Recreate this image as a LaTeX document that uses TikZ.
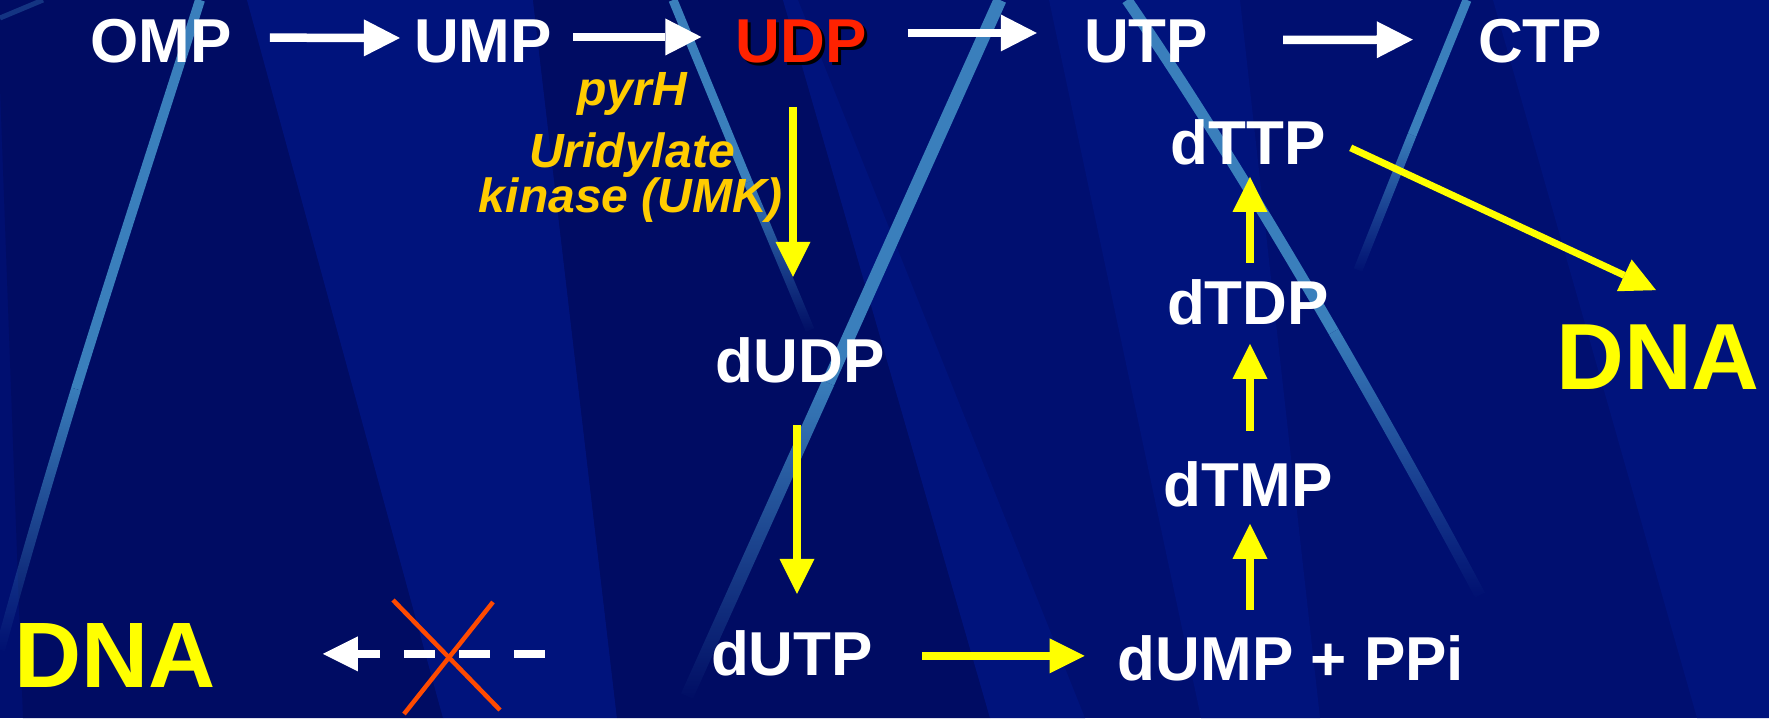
\documentclass[tikz,border=0pt]{standalone}
\usepackage{fontspec}
\setmainfont{Liberation Sans}
\usetikzlibrary{arrows.meta,calc,fadings}

\definecolor{navy}{HTML}{000F70}
\definecolor{navydark}{HTML}{000C63}
\definecolor{navylight}{HTML}{00137C}
\definecolor{streak}{HTML}{3A7FBC}
\definecolor{gold}{HTML}{FFCC00}
\definecolor{dnayellow}{HTML}{FFFF00}
\definecolor{udpred}{HTML}{FF2200}
\definecolor{crossred}{HTML}{FF4A00}

% beam fading: opaque at the top, transparent at the lower end
\tikzfading[name=tailfade, top color=transparent!0, bottom color=transparent!100]

\begin{document}
\begin{tikzpicture}[x=1pt, y=-1pt,
  lbl/.style={text=white, font=\fontsize{62}{62}\selectfont\bfseries, inner sep=0pt, anchor=base},
  enz/.style={text=gold, font=\fontsize{48}{48}\selectfont\bfseries\itshape, inner sep=0pt, anchor=base},
  dna/.style={text=dnayellow, font=\fontsize{94}{94}\selectfont\bfseries, inner sep=0pt, anchor=base},
  warr/.style={draw=white, line width=8.5pt, -{Triangle[length=36pt,width=37pt,line width=0pt]}},
  yarr/.style={draw=dnayellow, line width=7.5pt, -{Triangle[length=35pt,width=35pt,line width=0pt]}},
  beam/.style={draw=streak, line cap=butt},
]
\useasboundingbox (0,0) rectangle (1769,718);

% background panels
\fill[navy] (0,0) rectangle (1769,718);
\fill[navydark] (0,0) -- (247,0) -- (443,718) -- (23,718) -- (0,87) -- cycle;
\fill[navylight] (247,0) -- (533,0) -- (617,718) -- (443,718) -- cycle;
\fill[navydark] (533,0) -- (783,0) -- (990,718) -- (617,718) -- cycle;
\fill[navylight] (783,0) -- (798,0) -- (1085,718) -- (990,718) -- cycle;
\fill[navylight] (1049,0) -- (1240,0) -- (1320,718) -- (1201,718) -- cycle;
\fill[navylight] (1493,0) -- (1769,0) -- (1769,718) -- (1697,718) -- cycle;

% light beams: solid upper part, fading lower part
\draw[beam, line width=10pt] (200,0) .. controls (158,132) and (116,260) .. (76,389);
\draw[beam, line width=10pt, path fading=tailfade] (76,389) .. controls (49.6,475.6) and (24,562) .. (0,650);
\draw[streak, opacity=0.35, line width=5pt] (0,18) -- (43,0);
\draw[beam, line width=9pt] (673,0) -- (748,182);
\draw[beam, line width=9pt, path fading=tailfade] (748,182) -- (810,330);
\draw[beam, line width=13pt] (1000,0) -- (828,383);
\draw[beam, line width=13pt, path fading=tailfade] (828,383) -- (687,696);
\draw[beam, line width=11pt] (1127,0) .. controls (1188.8,90) and (1260.3,205.2) .. (1333.6,331.6);
\draw[beam, line width=11pt, path fading=tailfade] (1333.6,331.6) .. controls (1382.4,415.8) and (1432,505) .. (1480,595);
\draw[beam, line width=9pt] (1467,0) -- (1412,135);
\draw[beam, line width=9pt, path fading=tailfade] (1412,135) -- (1358,270);

% top row
\node[lbl] (omp) at (161,62) {OMP};
\node[lbl] (ump) at (483,62) {UMP};
\node[lbl, text=black] (udpshadow) at (804,65) {UDP};
\node[lbl, text=udpred] (udp) at (801,62) {UDP};
\node[lbl] (utp) at (1146,62) {UTP};
\node[lbl] (ctp) at (1540,62) {CTP};

% enzyme label
\node[enz] (pyrh) at (632,105) {pyrH};
\node[enz] (umk1) at (632,167) {Uridylate};
\node[enz] (umk2) at (631,212) {kinase (UMK)};

% deoxy branch
\node[lbl] (dudp) at (800,382) {dUDP};
\node[lbl] (dutp) at (792,675) {dUTP};
\node[lbl] (dump) at (1291,680) {dUMP + PPi};
\node[lbl] (dtmp) at (1248,506) {dTMP};
\node[lbl] (dtdp) at (1248,324) {dTDP};
\node[lbl] (dttp) at (1248,164) {dTTP};
\node[dna] (dnar) at (1658,389) {DNA};
\node[dna, font=\fontsize{93}{93}\selectfont\bfseries] (dnal) at (115,687) {DNA};

% white arrows of the top row
\draw[warr] ($(omp.east)+(38,-3)$) -- ($(ump.west)+(-14,-3)$);
\draw[warr] ($(ump.east)+(21,-4)$) -- ($(udp.west)+(-34,-4)$);
\draw[warr] ($(udp.east)+(41,-8)$) -- ($(utp.west)+(-47,-8)$);
\draw[warr] ($(utp.east)+(75,-1)$) -- ($(ctp.west)+(-65,-1)$);

% yellow arrows
\draw[yarr] ($(udp.south)+(-8,44)$) -- ($(dudp.north)+(-7,-60)$);
\draw[yarr] ($(dudp.south)+(-3,42)$) -- ($(dutp.north)+(5,-36)$);
\draw[yarr] ($(dutp.east)+(49,3)$) -- ($(dutp.east -| dump.west)+(-33,3)$);
\draw[yarr] ($(dump.north -| dtmp.south)+(2,-25)$) -- ($(dtmp.south)+(2,17)$);
\draw[yarr] ($(dtmp.north)+(2,-30)$) -- ($(dtdp.south)+(2,19)$);
\draw[yarr] ($(dtdp.north)+(2,-16)$) -- ($(dttp.south)+(2,12)$);
\draw[yarr, line width=7pt] ($(dttp.east)+(25,6)$) -- ($(dnar.north)+(-2,-34)$);

% blocked route from dUTP to DNA
\draw[white, line width=8.5pt, dash pattern=on 31pt off 24pt,
      -{Triangle[length=35pt,width=35pt,line width=0pt]}]
  ($(dutp.west)+(-166,1)$) -- ($(dutp.west -| dnal.east)+(107,1)$);
\draw[crossred, line width=4.5pt] (393,600) -- (500,710);
\draw[crossred, line width=4.5pt] (493,602) -- (404,714);
\end{tikzpicture}
\end{document}
